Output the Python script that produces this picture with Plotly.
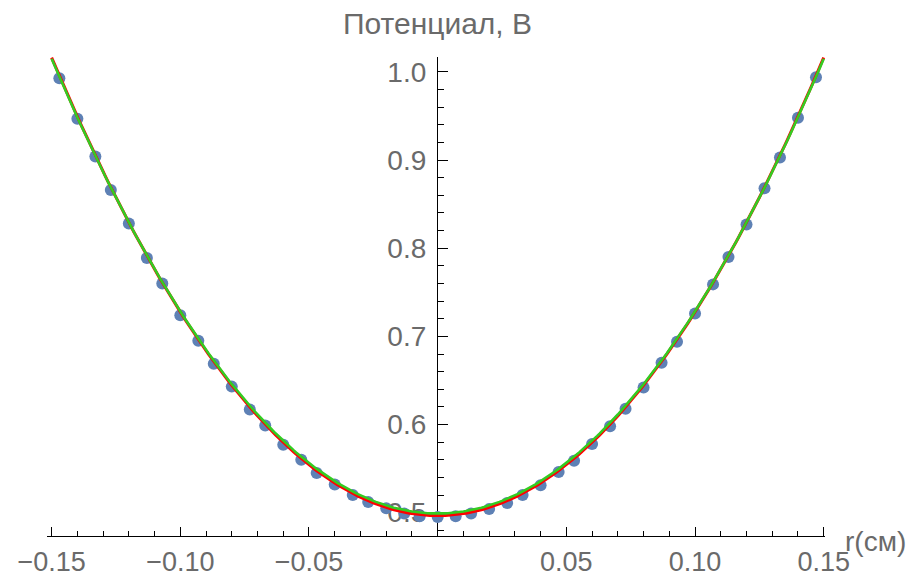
import numpy as np
import plotly.graph_objects as go

# measured points: r (cm) and potential (V)
r_cm = [-0.147, -0.140, -0.133, -0.127, -0.120, -0.113, -0.107, -0.100, -0.093, -0.087,
        -0.080, -0.073, -0.067, -0.060, -0.053, -0.047, -0.040, -0.033, -0.027, -0.020,
        -0.013, -0.007, 0.000, 0.007, 0.013, 0.020, 0.027, 0.033, 0.040, 0.047,
        0.053, 0.060, 0.067, 0.073, 0.080, 0.087, 0.093, 0.100, 0.107, 0.113,
        0.120, 0.127, 0.133, 0.140, 0.147]
potential_v = [0.993, 0.947, 0.904, 0.866, 0.828, 0.789, 0.760, 0.724, 0.695, 0.669,
               0.643, 0.617, 0.599, 0.577, 0.560, 0.545, 0.532, 0.520, 0.512, 0.505,
               0.499, 0.496, 0.495, 0.496, 0.499, 0.504, 0.511, 0.520, 0.531, 0.546,
               0.559, 0.578, 0.598, 0.618, 0.642, 0.670, 0.694, 0.726, 0.759, 0.790,
               0.827, 0.868, 0.903, 0.948, 0.994]

# fit model coefficients (c0 + c1*r + c2*r^2)
red_fit_coef = [0.4966, 0.0, 23.1]
green_fit_coef = [0.4990, 0.0, 22.93]
fit_range = [-0.15, 0.15]

x_major = [-0.15, -0.10, -0.05, 0.05, 0.10, 0.15]
x_major_text = ["\u22120.15", "\u22120.10", "\u22120.05", "0.05", "0.10", "0.15"]
y_major = [0.5, 0.6, 0.7, 0.8, 0.9, 1.0]
y_major_text = ["0.5", "0.6", "0.7", "0.8", "0.9", "1.0"]

rr = np.linspace(fit_range[0], fit_range[1], 301)
def model(c, r):
    return c[0] + c[1] * r + c[2] * r ** 2

FONT = "Liberation Sans, Arial, sans-serif"
GRAY = "#6a6a6a"

fig = go.Figure()
fig.add_trace(go.Scatter(x=r_cm, y=potential_v, mode="markers",
                         marker=dict(size=12, color="#5E81B5"), showlegend=False))
fig.add_trace(go.Scatter(x=rr, y=model(red_fit_coef, rr), mode="lines",
                         line=dict(color="#ff0000", width=3), showlegend=False))
fig.add_trace(go.Scatter(x=rr, y=model(green_fit_coef, rr), mode="lines",
                         line=dict(color="#33cc22", width=2.6), showlegend=False))

fig.update_layout(
    width=915, height=581,
    margin=dict(l=47, r=90, t=57, b=45, autoexpand=False),
    paper_bgcolor="white", plot_bgcolor="white",
    font=dict(family=FONT, size=27, color=GRAY),
    xaxis=dict(range=[-0.1518, 0.1505], showgrid=False, zeroline=False,
               automargin=False,
               showline=True, linecolor="black", linewidth=1.2,
               ticks="inside", ticklen=9, tickwidth=1, tickcolor="black",
               tickvals=x_major, ticktext=x_major_text,
               ticklabelstandoff=1,
               minor=dict(dtick=0.01, tick0=0, ticks="inside", ticklen=5, tickcolor="black"),
               tickfont=dict(family=FONT, size=27, color=GRAY),
               layer="below traces"),
    yaxis=dict(range=[0.4735, 1.017], showgrid=False, zeroline=False,
               automargin=False,
               anchor="free", position=0.5013, side="left",
               showline=True, linecolor="black", linewidth=1.2,
               ticks="inside", ticklen=10, tickwidth=1, tickcolor="black",
               tickvals=y_major, ticktext=y_major_text,
               ticklabelstandoff=5,
               minor=dict(dtick=0.02, tick0=0, ticks="inside", ticklen=6, tickcolor="black"),
               tickfont=dict(family=FONT, size=28, color=GRAY),
               layer="below traces"),
    annotations=[
        dict(text="Потенциал, В", x=0, xref="x", y=1.069, yref="paper",
             xanchor="center", yanchor="middle", showarrow=False,
             font=dict(family=FONT, size=30, color=GRAY)),
        dict(text="r(см)", x=1.023, xref="paper", y=-0.012, yref="paper",
             xanchor="left", yanchor="middle", showarrow=False,
             font=dict(family=FONT, size=28, color=GRAY)),
    ],
)

fig.write_html("out.html", config={"displayModeBar": False},
               post_script="document.body.style.margin='0';document.body.style.overflow='hidden';")
